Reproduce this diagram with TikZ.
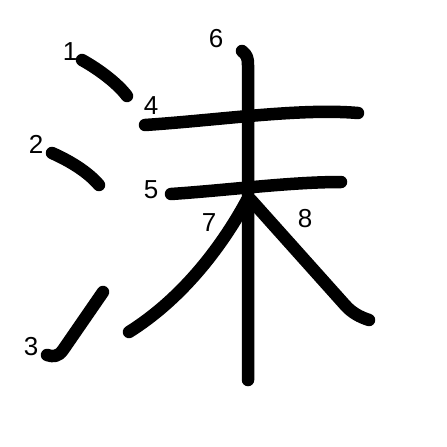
\documentclass[tikz,border=0pt]{standalone}
\usepackage{fontspec}
\setmainfont{Liberation Sans}
\usepackage{tikz}

\begin{document}
\begin{tikzpicture}[x=1pt,y=-1pt,
      brush/.style={line width=12.5pt,line cap=round,line join=round},
      num/.style={font=\fontsize{26}{26}\selectfont,inner sep=0pt}]
    \useasboundingbox[fill=white] (0,0) rectangle (447,447);
    % stroke numbers
    \node[num] (n1) at (70,52) {1};
    \node[num] (n2) at (36,144) {2};
    \node[num] (n3) at (31,347) {3};
    \node[num] (n4) at (151,106) {4};
    \node[num] (n5) at (151,190) {5};
    \node[num] (n6) at (216,39) {6};
    \node[num] (n7) at (209,223) {7};
    \node[num] (n8) at (305,219) {8};
    % strokes
    \draw[brush] (82,60) .. controls (100,70) and (118,84) .. (127,96);
    \draw[brush] (52,153) .. controls (70,161) and (88,172) .. (99,185);
    \draw[brush] (103,292) -- (63,350) .. controls (58,357) and (53,357) .. (47,355);
    \draw[brush] (145,125) .. controls (220,120) and (300,108) .. (358,113);
    \draw[brush] (171,194) .. controls (230,190) and (290,182) .. (341,182);
    \draw[brush] (242,51) .. controls (247,55) and (248,58) .. (248,65) -- (248,380);
    \draw[brush] (247,200) .. controls (220,250) and (180,300) .. (129,332);
    \draw[brush] (251,200) -- (345,305) .. controls (352,313) and (360,317) .. (369,320);
  \end{tikzpicture}
\end{document}
